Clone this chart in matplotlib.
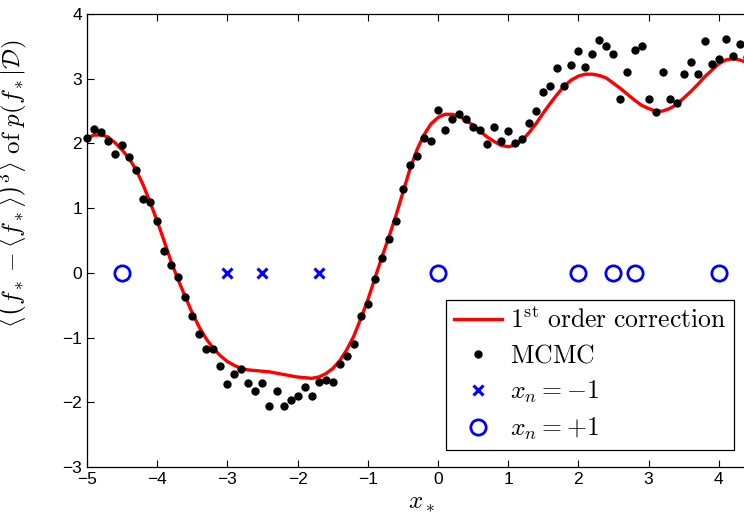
import numpy as np
import matplotlib
matplotlib.use('Agg')
from matplotlib import pyplot as plt

plt.rcParams['mathtext.fontset'] = 'cm'
plt.rcParams['font.family'] = ['Liberation Sans', 'DejaVu Sans']

# grid of test inputs x_* (step 0.1)
x_grid = np.linspace(-5.0, 4.4, 95)

# 1st order correction (red curve)
y_corr = [2.08, 2.13, 2.13, 2.10, 2.01, 1.90, 1.77, 1.59, 1.36, 1.09,
          0.80, 0.49, 0.17, -0.11, -0.37, -0.62, -0.84, -1.02, -1.17, -1.28,
          -1.37, -1.43, -1.48, -1.50, -1.51, -1.52, -1.53, -1.55, -1.57, -1.59,
          -1.61, -1.62, -1.63, -1.61, -1.56, -1.48, -1.36, -1.19, -0.98, -0.71,
          -0.42, -0.09, 0.24, 0.55, 0.88, 1.24, 1.60, 1.90, 2.13, 2.30,
          2.40, 2.45, 2.45, 2.42, 2.36, 2.28, 2.19, 2.10, 2.03, 1.97,
          1.95, 1.97, 2.05, 2.17, 2.31, 2.47, 2.62, 2.76, 2.89, 2.98,
          3.04, 3.07, 3.07, 3.05, 3.01, 2.93, 2.85, 2.76, 2.67, 2.59,
          2.54, 2.50, 2.50, 2.54, 2.60, 2.70, 2.80, 2.91, 3.03, 3.13,
          3.23, 3.29, 3.31, 3.29, 3.25]

# MCMC estimates (black dots)
y_mcmc = [2.08, 2.22, 2.18, 2.04, 1.83, 1.98, 1.79, 1.59, 1.14, 1.09,
          0.80, 0.33, 0.12, -0.07, -0.37, -0.67, -0.94, -1.17, -1.18, -1.44,
          -1.71, -1.57, -1.49, -1.70, -1.82, -1.70, -2.06, -1.82, -2.06, -1.97,
          -1.90, -1.77, -1.91, -1.69, -1.65, -1.68, -1.41, -1.29, -1.10, -0.67,
          -0.48, -0.09, 0.23, 0.52, 0.80, 1.30, 1.66, 1.80, 2.08, 2.04,
          2.51, 2.21, 2.38, 2.45, 2.38, 2.26, 2.20, 1.99, 2.26, 2.03,
          2.19, 2.00, 2.07, 2.32, 2.50, 2.80, 2.89, 3.17, 2.89, 3.21,
          3.43, 3.18, 3.38, 3.60, 3.51, 3.38, 2.68, 3.10, 3.45, 3.50,
          2.68, 2.49, 3.11, 2.69, 2.62, 3.07, 3.26, 3.07, 3.58, 3.23,
          3.30, 3.61, 3.35, 3.54, 3.34]

# training inputs
x_neg = [-3.0, -2.5, -1.7]
x_pos = [-4.5, 0.0, 2.0, 2.5, 2.8, 4.0]

fig = plt.figure(figsize=(7.44, 5.13), dpi=100)
ax = fig.add_axes([0.1169, 0.0897, 0.9435, 0.883])

ax.plot(x_grid, y_corr, color='red', lw=2.4, label=r'$1^{\rm st}\ {\rm order\ correction}$')
ax.plot(x_grid, y_mcmc, 'o', color='black', ms=5, ls='none', clip_on=False, label=r'$\rm MCMC$')
ax.plot(x_neg, np.zeros(len(x_neg)), 'x', color='blue', ms=7, mew=2.2, ls='none', label=r'$x_n=-1$')
ax.plot(x_pos, np.zeros(len(x_pos)), 'o', color='blue', mfc='none', ms=11, mew=2, ls='none',
        label=r'$x_n=+1$')

ax.set_xlim(-5, 5)
ax.set_ylim(-3, 4)
ax.set_xticks(np.arange(-5, 5))
ax.set_yticks(np.arange(-3, 5))
ax.tick_params(direction='in', top=True, right=True, labelsize=12.5, length=5, width=0.8)
for s in ax.spines.values():
    s.set_linewidth(0.9)

ax.set_xlabel(r'$x_*$', fontsize=18)
ax.xaxis.set_label_coords(0.476, -0.05)
ax.set_ylabel(r'$\left\langle \left(f_* - \langle f_*\rangle\right)^3 \right\rangle\ {\rm of}\ p(f_*|\mathcal{D})$',
              fontsize=18)
ax.yaxis.set_label_coords(-0.082, 0.625)

leg = ax.legend(loc='lower right', bbox_to_anchor=(734 / 744, 1 - 450 / 513),
                bbox_transform=fig.transFigure, borderaxespad=0, fancybox=False,
                edgecolor='black', framealpha=1, fontsize=18.5, handlelength=1.9,
                handletextpad=0.3, labelspacing=0.42, borderpad=0.3)
leg.get_frame().set_linewidth(0.9)

fig.savefig('out.png', dpi=100)
